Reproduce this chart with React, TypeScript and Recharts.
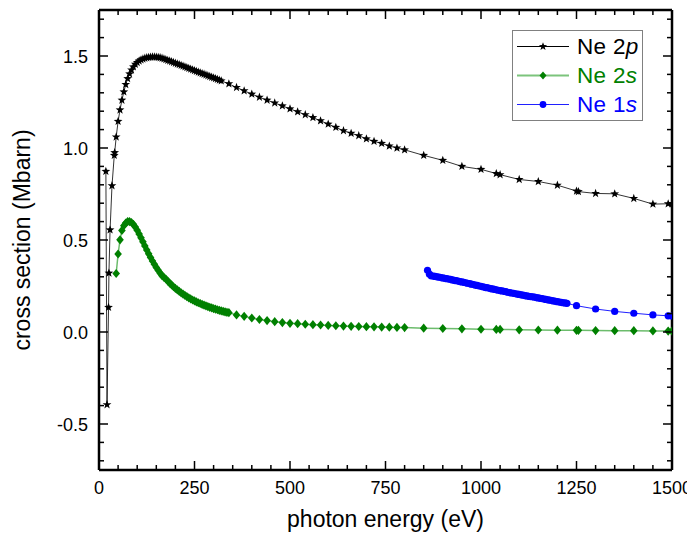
import React from 'react';
import { LineChart, Line, XAxis, YAxis, Legend } from 'recharts';

const FONT = '"Liberation Sans", Arial, sans-serif';

// ---- Ne 2p ----
const ne2pEnergy = [
  18, 21, 25, 26, 29, 34, 40, 41, 45, 50, 55,
  60, 65, 70, 75, 80, 85, 90, 95, 100, 105, 110, 115, 120, 125, 130, 135, 140, 145, 150,
  155, 160, 165, 170, 175, 180, 185, 190, 195, 200, 205, 210, 215, 220, 225, 230, 235, 240,
  245, 250, 255, 260, 265, 270, 275, 280, 285, 290, 295, 300, 305, 310, 315, 320,
  340, 360, 380, 400, 420, 440, 460, 480, 500, 520, 540, 560, 580, 600, 620, 640, 660, 680,
  700, 720, 740, 760, 780, 800, 850, 900, 950, 1000, 1040, 1050, 1100, 1150, 1200, 1250, 1255,
  1300, 1350, 1400, 1450, 1490, 1500,
];
const ne2pSigma = [
  0.873, -0.395, 0.134, 0.32, 0.555, 0.795, 0.96, 0.975, 1.06, 1.145, 1.207,
  1.26, 1.305, 1.345, 1.377, 1.403, 1.424, 1.441, 1.455, 1.465, 1.473, 1.479, 1.484, 1.488, 1.491, 1.493, 1.494, 1.495, 1.495, 1.494,
  1.493, 1.491, 1.488, 1.485, 1.481, 1.477, 1.473, 1.469, 1.465, 1.461, 1.457, 1.453, 1.449, 1.445, 1.441, 1.437, 1.433, 1.429,
  1.425, 1.421, 1.417, 1.413, 1.409, 1.405, 1.401, 1.397, 1.393, 1.389, 1.385, 1.381, 1.377, 1.373, 1.369, 1.365,
  1.349, 1.329, 1.311, 1.293, 1.276, 1.26, 1.245, 1.229, 1.213, 1.197, 1.181, 1.165, 1.148, 1.13, 1.112, 1.094, 1.08, 1.067,
  1.05, 1.036, 1.025, 1.011, 1.0, 0.99, 0.96, 0.933, 0.9, 0.884, 0.861, 0.855, 0.829, 0.818, 0.798, 0.766, 0.763,
  0.753, 0.751, 0.726, 0.695, 0.697, 0.697,
];

// ---- Ne 2s ----
const ne2sEnergy = [
  45, 50, 55, 60, 65, 70, 75,
  80, 85, 90, 95, 100, 105, 110, 115, 120, 125, 130, 135, 140, 145, 150, 155, 160, 165, 170,
  175, 180, 185, 190, 195, 200, 205, 210, 215, 220, 225, 230, 235, 240, 245, 250, 255, 260,
  265, 270, 275, 280, 285, 290, 295, 300, 305, 310, 315, 320, 325, 330, 335, 340,
  360, 380, 400, 420, 440, 460, 480, 500, 520, 540, 560, 580, 600, 620, 640, 660, 680,
  700, 720, 740, 760, 780, 800, 850, 900, 950, 1000, 1040, 1050, 1100, 1150, 1200, 1250, 1255,
  1300, 1350, 1400, 1450, 1490, 1500,
];
const ne2sSigma = [
  0.318, 0.424, 0.501, 0.552, 0.578, 0.592, 0.6,
  0.6, 0.595, 0.585, 0.57, 0.553, 0.533, 0.512, 0.49, 0.468, 0.446, 0.425, 0.405, 0.386, 0.368, 0.351, 0.335, 0.32, 0.306, 0.297,
  0.288, 0.277, 0.266, 0.256, 0.246, 0.237, 0.229, 0.221, 0.213, 0.206, 0.199, 0.192, 0.186, 0.18, 0.174, 0.169, 0.164, 0.159,
  0.155, 0.15, 0.146, 0.142, 0.138, 0.134, 0.131, 0.127, 0.124, 0.121, 0.118, 0.115, 0.112, 0.109, 0.107, 0.105,
  0.093, 0.085, 0.076, 0.068, 0.062, 0.056, 0.051, 0.047, 0.045, 0.042, 0.04, 0.038, 0.036, 0.034, 0.032, 0.031, 0.03,
  0.029, 0.028, 0.027, 0.026, 0.025, 0.024, 0.021, 0.019, 0.017, 0.015, 0.014, 0.014, 0.012, 0.011, 0.01, 0.009, 0.009,
  0.008, 0.007, 0.007, 0.006, 0.005, 0.005,
];

// ---- Ne 1s ----
const ne1sEnergy = [
  860, 865, 870, 875, 880, 885, 890, 895, 900, 905, 910, 915, 920, 925, 930, 935, 940, 945,
  950, 955, 960, 965, 970, 975, 980, 985, 990, 995, 1000, 1005, 1010, 1015, 1020, 1025, 1030,
  1035, 1040, 1045, 1050, 1055, 1060, 1065, 1070, 1075, 1080, 1085, 1090, 1095, 1100, 1105,
  1110, 1115, 1120, 1125, 1130, 1135, 1140, 1145, 1150, 1155, 1160, 1165, 1170, 1175, 1180,
  1185, 1190, 1195, 1200, 1205, 1210, 1215, 1220, 1225,
  1250, 1300, 1350, 1400, 1450, 1490, 1500,
];
const ne1sSigma = [
  0.335, 0.314, 0.305, 0.304, 0.302, 0.3, 0.298, 0.296, 0.294, 0.292, 0.29, 0.288, 0.286, 0.283, 0.281, 0.279, 0.277, 0.274,
  0.272, 0.27, 0.267, 0.265, 0.263, 0.26, 0.258, 0.255, 0.253, 0.25, 0.248, 0.246, 0.243, 0.241, 0.239, 0.236, 0.234,
  0.232, 0.229, 0.227, 0.225, 0.223, 0.221, 0.219, 0.216, 0.214, 0.212, 0.21, 0.208, 0.206, 0.204, 0.202,
  0.2, 0.198, 0.196, 0.194, 0.192, 0.191, 0.189, 0.187, 0.185, 0.183, 0.181, 0.179, 0.177, 0.175, 0.173,
  0.171, 0.169, 0.167, 0.165, 0.163, 0.161, 0.159, 0.158, 0.156,
  0.143, 0.125, 0.112, 0.102, 0.093, 0.088, 0.087,
];

const xTicks = [
  0, 50, 100, 150, 200, 250, 300, 350, 400, 450, 500, 550, 600, 650, 700, 750, 800, 850, 900,
  950, 1000, 1050, 1100, 1150, 1200, 1250, 1300, 1350, 1400, 1450, 1500,
];
const xMajor = [0, 250, 500, 750, 1000, 1250, 1500];
const yTicks = [
  -0.7, -0.6, -0.5, -0.4, -0.3, -0.2, -0.1, 0, 0.1, 0.2, 0.3, 0.4, 0.5, 0.6, 0.7, 0.8, 0.9,
  1.0, 1.1, 1.2, 1.3, 1.4, 1.5, 1.6, 1.7,
];
const yMajor = [-0.5, 0, 0.5, 1.0, 1.5];
const yLabels = ['-0.5', '0.0', '0.5', '1.0', '1.5'];
const legendOrder = ['Ne 2p', 'Ne 2s', 'Ne 1s'];

const zip = (es: number[], ss: number[]) => es.map((e, i) => ({ e, s: ss[i] }));
const ne2p = zip(ne2pEnergy, ne2pSigma);
const ne2s = zip(ne2sEnergy, ne2sSigma);
const ne1s = zip(ne1sEnergy, ne1sSigma);

const MAJ = 9;
const MIN = 5;

const starPath = (cx: number, cy: number, R: number, r: number) => {
  let d = '';
  for (let i = 0; i < 10; i++) {
    const rad = i % 2 === 0 ? R : r;
    const a = -Math.PI / 2 + (i * Math.PI) / 5;
    d += (i === 0 ? 'M' : 'L') + (cx + rad * Math.cos(a)).toFixed(2) + ',' + (cy + rad * Math.sin(a)).toFixed(2);
  }
  return d + 'Z';
};

const StarDot = (p: any) => {
  if (p.cx == null || p.cy == null) return <g key={p.key} />;
  return <path key={p.key} d={starPath(p.cx, p.cy, 4.6, 1.9)} fill="#000" />;
};
const DiamondDot = (p: any) => {
  if (p.cx == null || p.cy == null) return <g key={p.key} />;
  const { cx, cy } = p;
  return <path key={p.key} d={`M${cx},${cy - 4.6}L${cx + 3.8},${cy}L${cx},${cy + 4.6}L${cx - 3.8},${cy}Z`} fill="#008000" />;
};
const CircleDot = (p: any) => {
  if (p.cx == null || p.cy == null) return <g key={p.key} />;
  return <circle key={p.key} cx={p.cx} cy={p.cy} r={3.6} fill="#0000ff" />;
};

const isMajorX = (v: number) => xMajor.indexOf(v) >= 0;
const majorYIndex = (v: number) => yMajor.findIndex((m) => Math.abs(m - v) < 1e-6);

const BottomTick = (p: any) => {
  const { x, y, payload } = p;
  const maj = isMajorX(payload.value);
  return (
    <g>
      <line x1={x} x2={x} y1={y} y2={y - (maj ? MAJ : MIN)} stroke="#000" strokeWidth={1.5} />
      {maj && (
        <text x={x} y={y + 24} textAnchor="middle" fontFamily={FONT} fontSize={18} fill="#000">
          {payload.value}
        </text>
      )}
    </g>
  );
};
const TopTick = (p: any) => {
  const { x, y, payload } = p;
  const maj = isMajorX(payload.value);
  return <line x1={x} x2={x} y1={y} y2={y + (maj ? MAJ : MIN)} stroke="#000" strokeWidth={1.5} />;
};
const LeftTick = (p: any) => {
  const { x, y, payload } = p;
  const mi = majorYIndex(payload.value);
  const maj = mi >= 0;
  return (
    <g>
      <line x1={x} x2={x + (maj ? MAJ : MIN)} y1={y} y2={y} stroke="#000" strokeWidth={1.5} />
      {maj && (
        <text x={x - 11} y={y + 6.5} textAnchor="end" fontFamily={FONT} fontSize={18} fill="#000">
          {yLabels[mi]}
        </text>
      )}
    </g>
  );
};
const RightTick = (p: any) => {
  const { x, y, payload } = p;
  const maj = majorYIndex(payload.value) >= 0;
  return <line x1={x} x2={x - (maj ? MAJ : MIN)} y1={y} y2={y} stroke="#000" strokeWidth={1.5} />;
};

const legendMeta: Record<string, { num: string; sub: string; color: string; line: string; lw: number; kind: string }> = {
  'Ne 2p': { num: '2', sub: 'p', color: '#000', line: '#000', lw: 1, kind: 'star' },
  'Ne 2s': { num: '2', sub: 's', color: '#008000', line: '#7cc47c', lw: 2, kind: 'diamond' },
  'Ne 1s': { num: '1', sub: 's', color: '#0000ff', line: '#2020ff', lw: 1, kind: 'circle' },
};

const LegendIcon = ({ kind, line, lw }: { kind: string; line: string; lw: number }) => (
  <svg width={58} height={29} style={{ display: 'block' }}>
    <line x1={4} x2={56} y1={14.5} y2={14.5} stroke={line} strokeWidth={lw} />
    {kind === 'star' && <path d={starPath(30, 14.5, 4.3, 1.8)} fill="#000" />}
    {kind === 'diamond' && <path d="M30,10.5L33.5,14.5L30,18.5L26.5,14.5Z" fill="#008000" />}
    {kind === 'circle' && <circle cx={30} cy={14.5} r={3.4} fill="#0000ff" />}
  </svg>
);

const renderLegend = (props: any) => {
  const payload = (props.payload || [])
    .filter((e: any) => legendMeta[e.value])
    .slice()
    .sort((a: any, b: any) => legendOrder.indexOf(a.value) - legendOrder.indexOf(b.value));
  return (
    <div
      style={{
        border: '1px solid #808080',
        background: '#fff',
        width: 129,
        height: 89,
        boxSizing: 'content-box',
      }}
    >
      {payload.map((entry: any, i: number) => {
        const m = legendMeta[entry.value];
        return (
          <div key={entry.value} style={{ display: 'flex', alignItems: 'center', height: 29, marginTop: i === 0 ? 1 : 0 }}>
            <LegendIcon kind={m.kind} line={m.line} lw={m.lw} />
            <span
              style={{
                fontFamily: FONT,
                fontSize: 22.5,
                color: m.color,
                marginLeft: 6,
                whiteSpace: 'nowrap',
                letterSpacing: 0.3,
              }}
            >
              Ne {m.num}
              <i>{m.sub}</i>
            </span>
          </div>
        );
      })}
    </div>
  );
};

export default function App() {
  return (
    <LineChart width={687} height={524} margin={{ top: 1, right: 22, bottom: 0, left: 0 }}>
      <XAxis
        xAxisId="b"
        dataKey="e"
        type="number"
        domain={[0, 1500]}
        ticks={xTicks}
        interval={0}
        tickSize={0}
        tickMargin={0}
        tick={BottomTick}
        tickLine={false}
        axisLine={{ stroke: '#000', strokeWidth: 2.5 }}
        height={62}
        allowDataOverflow
        label={(lp: any) => {
          const vb = lp.viewBox || {};
          return (
            <text x={vb.x + vb.width / 2} y={vb.y + 57} textAnchor="middle" fontFamily={FONT} fontSize={23} fill="#000">
              photon energy (eV)
            </text>
          );
        }}
      />
      <XAxis
        xAxisId="t"
        orientation="top"
        dataKey="e"
        type="number"
        domain={[0, 1500]}
        ticks={xTicks}
        interval={0}
        tickSize={0}
        tickMargin={0}
        tick={TopTick}
        tickLine={false}
        axisLine={{ stroke: '#000', strokeWidth: 2.5 }}
        height={1}
        allowDataOverflow
      />
      <YAxis
        yAxisId="l"
        type="number"
        domain={[-0.75, 1.75]}
        ticks={yTicks}
        interval={0}
        tickSize={0}
        tickMargin={0}
        tick={LeftTick}
        tickLine={false}
        axisLine={{ stroke: '#000', strokeWidth: 2.5 }}
        width={91}
        allowDataOverflow
        label={(lp: any) => {
          const vb = lp.viewBox || {};
          const cx = vb.x + 22;
          const cy = vb.y + vb.height / 2;
          return (
            <text
              x={cx}
              y={cy}
              transform={`rotate(-90, ${cx}, ${cy})`}
              textAnchor="middle"
              fontFamily={FONT}
              fontSize={23}
              fill="#000"
            >
              cross section (Mbarn)
            </text>
          );
        }}
      />
      <YAxis
        yAxisId="r"
        orientation="right"
        type="number"
        domain={[-0.75, 1.75]}
        ticks={yTicks}
        interval={0}
        tickSize={0}
        tickMargin={0}
        tick={RightTick}
        tickLine={false}
        axisLine={{ stroke: '#000', strokeWidth: 2.5 }}
        width={1}
        allowDataOverflow
      />
      <Legend
        layout="vertical"
        align="center"
        verticalAlign="middle"
        content={renderLegend}
        wrapperStyle={{ position: 'absolute', left: 504, top: 22, width: 131, height: 91 }}
      />
      {/* invisible series bound to the mirrored top/right frame axes */}
      <Line
        name="frame"
        data={ne2p}
        dataKey="s"
        xAxisId="t"
        yAxisId="r"
        stroke="none"
        dot={false}
        activeDot={false}
        isAnimationActive={false}
        legendType="none"
      />
      <Line
        name="Ne 2p"
        data={ne2p}
        dataKey="s"
        xAxisId="b"
        yAxisId="l"
        stroke="#000"
        strokeWidth={0.8}
        dot={StarDot}
        activeDot={false}
        isAnimationActive={false}
        legendType="line"
      />
      <Line
        name="Ne 2s"
        data={ne2s}
        dataKey="s"
        xAxisId="b"
        yAxisId="l"
        stroke="#6cbc6c"
        strokeWidth={1.5}
        dot={DiamondDot}
        activeDot={false}
        isAnimationActive={false}
        legendType="line"
      />
      <Line
        name="Ne 1s"
        data={ne1s}
        dataKey="s"
        xAxisId="b"
        yAxisId="l"
        stroke="#2020ff"
        strokeWidth={1}
        dot={CircleDot}
        activeDot={false}
        isAnimationActive={false}
        legendType="line"
      />
    </LineChart>
  );
}
